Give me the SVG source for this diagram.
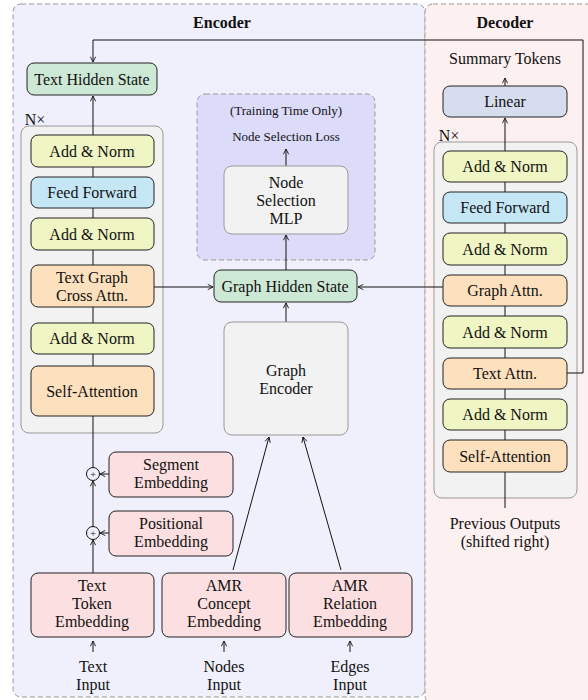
<svg xmlns="http://www.w3.org/2000/svg" width="588" height="700" viewBox="0 0 588 700">
<style>
text{font-family:"Liberation Serif","Times New Roman",serif;font-size:16px;fill:#111;text-anchor:middle}
.b{font-weight:bold}
.s{font-size:13px}
.box{stroke:#222;stroke-width:1}
.yel{fill:#f0f5c4}
.blu{fill:#c5e6f5}
.org{fill:#fde0bd}
.grn{fill:#cde8d5}
.pnk{fill:#fcdfe0}
.lin{fill:#d5ddee}
.gry{fill:#f2f2f2;stroke:#999;stroke-width:1}
.c{fill:none;stroke:#111;stroke-width:1}
</style>
<defs>
<marker id="a" viewBox="0 0 8 8" refX="7" refY="4" markerWidth="7" markerHeight="7" markerUnits="userSpaceOnUse" orient="auto">
<path d="M1,1 L7,4 L1,7" fill="none" stroke="#111" stroke-width="1"/>
</marker>
</defs>
<g id="encoder-panel">
<rect x="13" y="4" width="412" height="693" rx="8" fill="#f0f0fc" stroke="#999" stroke-dasharray="5,3"/>
<text class="b" x="222" y="28">Encoder</text>
</g>
<g id="decoder-panel">
<rect x="425" y="4" width="170" height="700" rx="8" fill="#fdf0f0" stroke="#999" stroke-dasharray="5,3"/>
<text class="b" x="505" y="28">Decoder</text>
</g>
<g id="training-box">
<rect x="197" y="94" width="178" height="166" rx="8" fill="#dcdcfa" stroke="#999" stroke-dasharray="5,3"/>
<text class="s" x="286" y="115">(Training Time Only)</text>
<text class="s" x="286" y="141">Node Selection Loss</text>
</g>
<g id="enc-stack">
<text x="35" y="125">N×</text>
<rect class="gry" x="21" y="126" width="142" height="307" rx="8"/>
</g>
<g id="dec-stack">
<text x="449" y="141">N×</text>
<rect class="gry" x="434" y="142" width="143" height="356" rx="8"/>
</g>
<g id="connectors">
<path class="c" d="M567,373 H583 V40 H93 V62" marker-end="url(#a)"/>
<path class="c" d="M93,135 V96" marker-end="url(#a)"/>
<path class="c" d="M93,167 V177 M93,208 V218 M93,250 V265 M93,307 V323 M93,354 V366 M93,416 V467"/>
<path class="c" d="M154,287 H213" marker-end="url(#a)"/>
<path class="c" d="M443,287 H358" marker-end="url(#a)"/>
<path class="c" d="M286,270 V235" marker-end="url(#a)"/>
<path class="c" d="M286,166 V149" marker-end="url(#a)"/>
<path class="c" d="M286,322 V303" marker-end="url(#a)"/>
<path class="c" d="M233,570 L269,437" marker-end="url(#a)"/>
<path class="c" d="M341,570 L303,437" marker-end="url(#a)"/>
<path class="c" d="M93,573 V540" marker-end="url(#a)"/>
<path class="c" d="M93,527 V481" marker-end="url(#a)"/>
<path class="c" d="M109,474 H100" marker-end="url(#a)"/>
<path class="c" d="M109,533 H100" marker-end="url(#a)"/>
<path class="c" d="M93,652 V641" marker-end="url(#a)"/>
<path class="c" d="M224,652 V641" marker-end="url(#a)"/>
<path class="c" d="M350,652 V641" marker-end="url(#a)"/>
<path class="c" d="M505,151 V118" marker-end="url(#a)"/>
<path class="c" d="M505,86 V78" marker-end="url(#a)"/>
<path class="c" d="M505,182 V192 M505,223 V233 M505,265 V275 M505,306 V316 M505,348 V358 M505,389 V399 M505,430 V440 M505,472 V508"/>
</g>
<g id="sum1"><circle class="c" cx="93" cy="474" r="6.5"/><text x="93" y="477.5" style="font-size:10px">+</text></g>
<g id="sum2"><circle class="c" cx="93" cy="533" r="6.5"/><text x="93" y="536.5" style="font-size:10px">+</text></g>
<g id="text-hidden-state"><rect class="box grn" x="27" y="63" width="130" height="32" rx="7"/><text x="92" y="85">Text Hidden State</text></g>
<g id="enc-addnorm3"><rect class="box yel" x="31" y="135" width="123" height="32" rx="7"/><text x="92" y="157">Add &amp; Norm</text></g>
<g id="enc-ff"><rect class="box blu" x="31" y="177" width="123" height="31" rx="7"/><text x="92" y="198">Feed Forward</text></g>
<g id="enc-addnorm2"><rect class="box yel" x="31" y="218" width="123" height="32" rx="7"/><text x="92" y="240">Add &amp; Norm</text></g>
<g id="enc-cross"><rect class="box org" x="31" y="265" width="123" height="42" rx="7"/><text x="92" y="283">Text Graph</text><text x="92" y="301">Cross Attn.</text></g>
<g id="enc-addnorm1"><rect class="box yel" x="31" y="323" width="123" height="31" rx="7"/><text x="92" y="344">Add &amp; Norm</text></g>
<g id="enc-self"><rect class="box org" x="31" y="366" width="123" height="50" rx="7"/><text x="92" y="397">Self-Attention</text></g>
<g id="graph-hidden-state"><rect class="box grn" x="214" y="270" width="143" height="32" rx="7"/><text x="285" y="292">Graph Hidden State</text></g>
<g id="node-sel-mlp"><rect class="gry" x="224" y="166" width="124" height="68" rx="8"/><text x="286" y="188">Node</text><text x="286" y="206">Selection</text><text x="286" y="224">MLP</text></g>
<g id="graph-encoder"><rect class="gry" x="224" y="322" width="124" height="113" rx="8"/><text x="286" y="376">Graph</text><text x="286" y="394">Encoder</text></g>
<g id="segment-emb"><rect class="box pnk" x="109" y="452" width="124" height="45" rx="7"/><text x="171" y="470">Segment</text><text x="171" y="488">Embedding</text></g>
<g id="positional-emb"><rect class="box pnk" x="109" y="511" width="124" height="45" rx="7"/><text x="171" y="529">Positional</text><text x="171" y="547">Embedding</text></g>
<g id="text-token-emb"><rect class="box pnk" x="31" y="573" width="123" height="64" rx="7"/><text x="92" y="591">Text</text><text x="92" y="609">Token</text><text x="92" y="627">Embedding</text></g>
<g id="amr-concept-emb"><rect class="box pnk" x="162" y="573" width="124" height="64" rx="7"/><text x="224" y="591">AMR</text><text x="224" y="609">Concept</text><text x="224" y="627">Embedding</text></g>
<g id="amr-relation-emb"><rect class="box pnk" x="289" y="573" width="123" height="64" rx="7"/><text x="350" y="591">AMR</text><text x="350" y="609">Relation</text><text x="350" y="627">Embedding</text></g>
<g id="inputs">
<text x="93" y="672">Text</text><text x="93" y="690">Input</text>
<text x="224" y="672">Nodes</text><text x="224" y="690">Input</text>
<text x="350" y="672">Edges</text><text x="350" y="690">Input</text>
</g>
<g id="summary-tokens"><text x="505" y="64">Summary Tokens</text></g>
<g id="linear"><rect class="box lin" x="443" y="86" width="124" height="31" rx="7"/><text x="505" y="107">Linear</text></g>
<g id="dec-addnorm4"><rect class="box yel" x="443" y="151" width="124" height="31" rx="7"/><text x="505" y="172">Add &amp; Norm</text></g>
<g id="dec-ff"><rect class="box blu" x="443" y="192" width="124" height="31" rx="7"/><text x="505" y="213">Feed Forward</text></g>
<g id="dec-addnorm3"><rect class="box yel" x="443" y="233" width="124" height="32" rx="7"/><text x="505" y="255">Add &amp; Norm</text></g>
<g id="dec-graph-attn"><rect class="box org" x="443" y="275" width="124" height="31" rx="7"/><text x="505" y="296">Graph Attn.</text></g>
<g id="dec-addnorm2"><rect class="box yel" x="443" y="316" width="124" height="32" rx="7"/><text x="505" y="338">Add &amp; Norm</text></g>
<g id="dec-text-attn"><rect class="box org" x="443" y="358" width="124" height="31" rx="7"/><text x="505" y="379">Text Attn.</text></g>
<g id="dec-addnorm1"><rect class="box yel" x="443" y="399" width="124" height="31" rx="7"/><text x="505" y="420">Add &amp; Norm</text></g>
<g id="dec-self"><rect class="box org" x="443" y="440" width="124" height="32" rx="7"/><text x="505" y="462">Self-Attention</text></g>
<g id="prev-outputs"><text x="505" y="529">Previous Outputs</text><text x="505" y="547">(shifted right)</text></g>
</svg>
